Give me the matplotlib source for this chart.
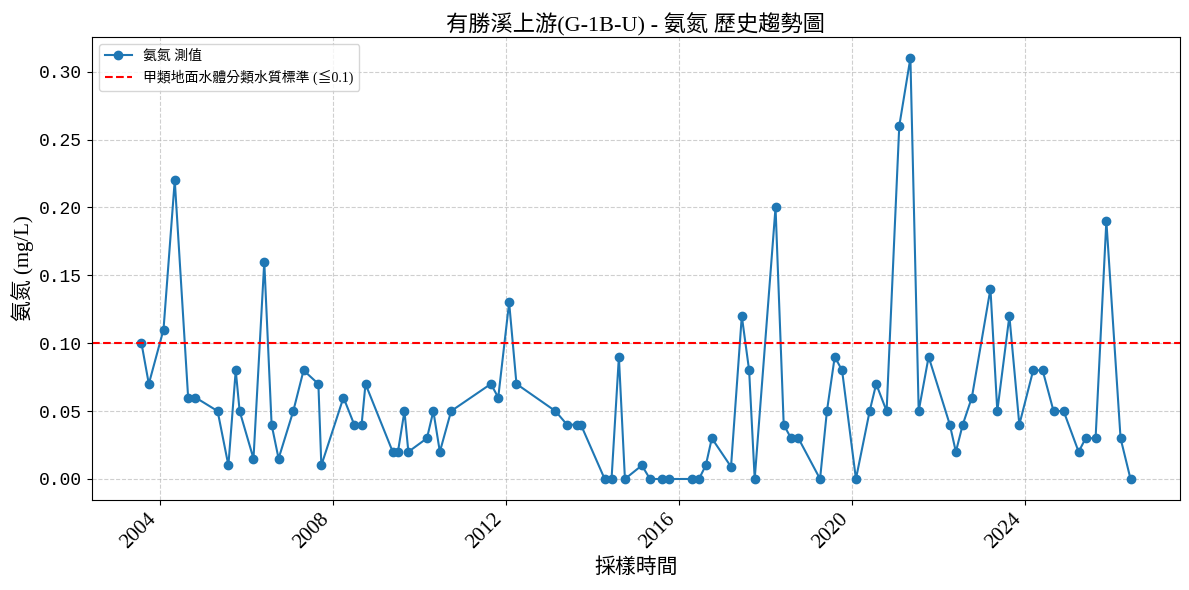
import pandas as pd
import matplotlib
matplotlib.use('Agg')
import matplotlib.pyplot as plt
import matplotlib.dates as mdates

# 字型: 英數用襯線字, 中文退回 Noto CJK
plt.rcParams['font.family'] = ['Liberation Serif', 'Noto Sans CJK TC', 'DejaVu Sans']
plt.rcParams['axes.unicode_minus'] = False

# 採樣日期
fechas = [
    '2003-07-31', '2003-10-01', '2004-02-02', '2004-05-07', '2004-08-28', '2004-10-29',
    '2005-05-04', '2005-08-03', '2005-10-04', '2005-11-06', '2006-03-03', '2006-06-02',
    '2006-08-03', '2006-10-01', '2007-02-02', '2007-04-30', '2007-09-02', '2007-09-27',
    '2008-04-01', '2008-07-01', '2008-09-01', '2008-10-04', '2009-05-22', '2009-07-05',
    '2009-08-29', '2009-10-01', '2010-03-07', '2010-04-30', '2010-06-24', '2010-09-27',
    '2011-08-29', '2011-10-30', '2012-01-30', '2012-04-01', '2013-02-24', '2013-06-02',
    '2013-08-29', '2013-09-27', '2014-04-16', '2014-06-13', '2014-08-14', '2014-10-04',
    '2015-02-24', '2015-05-04', '2015-08-11', '2015-10-12', '2016-04-19', '2016-06-20',
    '2016-08-17', '2016-10-07', '2017-03-18', '2017-06-17', '2017-08-18', '2017-10-04',
    '2018-03-29', '2018-06-06', '2018-08-07', '2018-10-08', '2019-04-09', '2019-06-06',
    '2019-08-11', '2019-10-12', '2020-02-06', '2020-06-01', '2020-07-26', '2020-10-22',
    '2021-02-06', '2021-05-11', '2021-07-20', '2021-10-12', '2022-04-09', '2022-05-30',
    '2022-07-27', '2022-10-12', '2023-03-18', '2023-05-15', '2023-08-25', '2023-11-17',
    '2024-03-13', '2024-06-01', '2024-09-01', '2024-11-25', '2025-04-01', '2025-05-30',
    '2025-08-22', '2025-11-21', '2026-03-21', '2026-06-13',
]

# 氨氮 測值 (mg/L)
valores = [
    0.10, 0.07, 0.11, 0.22, 0.06, 0.06,
    0.05, 0.01, 0.08, 0.05, 0.015, 0.16,
    0.04, 0.015, 0.05, 0.08, 0.07, 0.01,
    0.06, 0.04, 0.04, 0.07, 0.02, 0.02,
    0.05, 0.02, 0.03, 0.05, 0.02, 0.05,
    0.07, 0.06, 0.13, 0.07, 0.05, 0.04,
    0.04, 0.04, 0.00, 0.00, 0.09, 0.00,
    0.01, 0.00, 0.00, 0.00, 0.00, 0.00,
    0.01, 0.03, 0.009, 0.12, 0.08, 0.00,
    0.20, 0.04, 0.03, 0.03, 0.00, 0.05,
    0.09, 0.08, 0.00, 0.05, 0.07, 0.05,
    0.26, 0.31, 0.05, 0.09, 0.04, 0.02,
    0.04, 0.06, 0.14, 0.05, 0.12, 0.04,
    0.08, 0.08, 0.05, 0.05, 0.02, 0.03,
    0.03, 0.19, 0.03, 0.00,
]

limite = 0.1

df = pd.DataFrame({'fecha': pd.to_datetime(fechas), 'valor': valores})

fig, ax = plt.subplots(figsize=(11.89, 5.9), dpi=100)

ax.plot(df['fecha'], df['valor'], marker='o', color='#1f77b4', label='氨氮 測值')
ax.axhline(limite, color='red', linestyle='--', label='甲類地面水體分類水質標準 (≦0.1)')

ax.set_title('有勝溪上游(G-1B-U) - 氨氮 歷史趨勢圖', fontsize=16, pad=4)
ax.set_xlabel('採樣時間', fontsize=15)
ax.set_ylabel('氨氮 (mg/L)', fontsize=15)
ax.grid(True, linestyle='--', alpha=0.6)
ax.legend(loc='upper left', fontsize=10)

ax.yaxis.set_major_formatter(matplotlib.ticker.FormatStrFormatter('%.2f'))
ax.tick_params(axis='both', labelsize=15)
ax.xaxis.set_major_locator(mdates.YearLocator(4))
ax.xaxis.set_major_formatter(mdates.DateFormatter('%Y'))
plt.setp(ax.get_xticklabels(), rotation=45, ha='right')
plt.setp(ax.get_yticklabels(), family=['Liberation Mono', 'DejaVu Sans'], fontsize=13)

# 版面位置對齊原圖
plt.subplots_adjust(left=0.0774, right=0.9924, top=0.9373, bottom=0.1525)
plt.savefig('out.png')
